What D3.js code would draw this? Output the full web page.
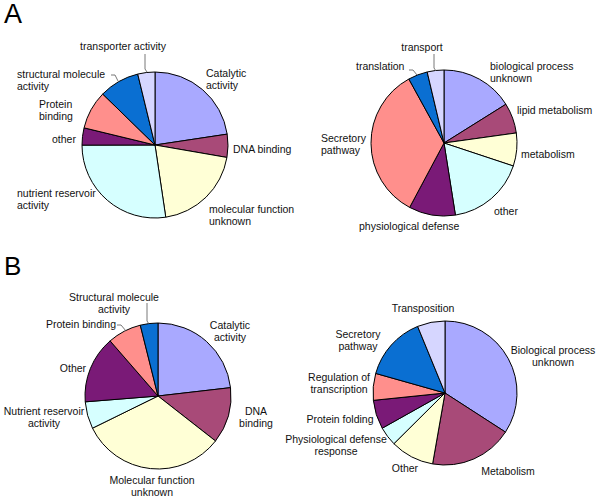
<!DOCTYPE html>
<html>
<head>
<meta charset="utf-8">
<script src="https://cdn.jsdelivr.net/npm/d3@7"></script>
<style>
  body { margin: 0; background: #fff; }
  svg { font-family: "Liberation Sans", Arial, sans-serif; }
</style>
</head>
<body>
<svg class="display"></svg>
<script>
// slice shares (%), clockwise from 12 o'clock
const molFuncA = ['Catalytic activity', 'DNA binding', 'molecular function unknown', 'nutrient reservoir activity',
  'other', 'Protein binding', 'structural molecule activity', 'transporter activity'];
const molFuncAValues = [22.6, 5.1, 19.9, 27.3, 3.8, 8.5, 8.9, 3.8];

const bioProcA = ['biological process unknown', 'lipid metabolism', 'metabolism', 'other',
  'physiological defense', 'Secretory pathway', 'translation', 'transport'];
const bioProcAValues = [16.1, 6.7, 7.3, 17.4, 10.3, 34.2, 4.3, 3.7];

const molFuncB = ['Catalytic activity', 'DNA binding', 'Molecular function unknown', 'Nutrient reservoir activity',
  'Other', 'Protein binding', 'Structural molecule activity'];
const molFuncBValues = [23.2, 12.4, 32.2, 6.0, 14.9, 7.5, 3.9];

const bioProcB = ['Biological process unknown', 'Metabolism', 'Other', 'Physiological defense response',
  'Protein folding', 'Regulation of transcription', 'Secretory pathway', 'Transposition'];
const bioProcBValues = [34.1, 18.6, 9.8, 4.3, 6.5, 6.0, 14.4, 6.2];

const palette = ['#a9a9ff', '#a84a78', '#ffffd6', '#d6ffff', '#7a1a77', '#ff8f8c', '#0a6fd2', '#d6d6ff'];

const width = 600;
const height = 501;

const svg = d3.select('.display')
  .attr('width', width)
  .attr('height', height);

svg.append('text').attr('x', 4).attr('y', 23).attr('font-size', 27).text('A');
svg.append('text').attr('x', 4).attr('y', 275).attr('font-size', 26).text('B');

// label layout: [x, y of first baseline, anchor, lines]
const charts = [
  {
    cats: molFuncA, values: molFuncAValues, cx: 155, cy: 145, r: 73,
    labels: [
      [206, 77, 'start', ['Catalytic', 'activity']],
      [233, 153, 'start', ['DNA binding']],
      [209, 213, 'start', ['molecular function', 'unknown']],
      [17, 197, 'start', ['nutrient reservoir', 'activity']],
      [52, 143, 'start', ['other']],
      [39, 108, 'start', ['Protein', 'binding']],
      [17, 78, 'start', ['structural molecule', 'activity']],
      [123, 50, 'middle', ['transporter activity']]
    ],
    leaders: [
      [[111, 75], [115, 75], [118, 81]],
      [[145, 54], [145, 69], [147, 72]]
    ]
  },
  {
    cats: bioProcA, values: bioProcAValues, cx: 444, cy: 143, r: 73,
    labels: [
      [490, 70, 'start', ['biological process', 'unknown']],
      [517, 114, 'start', ['lipid metabolism']],
      [521, 158, 'start', ['metabolism']],
      [494, 215, 'start', ['other']],
      [359, 230, 'start', ['physiological defense']],
      [321, 142, 'start', ['Secretory', 'pathway']],
      [356, 70, 'start', ['translation']],
      [422, 51, 'middle', ['transport']]
    ],
    leaders: [
      [[409, 70], [413, 70], [417, 75]],
      [[434, 54], [434, 68], [436, 71]]
    ]
  },
  {
    cats: molFuncB, values: molFuncBValues, cx: 158, cy: 396, r: 73,
    labels: [
      [230, 329, 'middle', ['Catalytic', 'activity']],
      [256, 415, 'middle', ['DNA', 'binding']],
      [152, 484, 'middle', ['Molecular function', 'unknown']],
      [44, 415, 'middle', ['Nutrient reservoir', 'activity']],
      [73, 372, 'middle', ['Other']],
      [81, 328, 'middle', ['Protein binding']],
      [114, 301, 'middle', ['Structural molecule', 'activity']]
    ],
    leaders: [
      [[117, 325], [121, 325], [126, 331]],
      [[147, 303], [147, 321], [149, 324]]
    ]
  },
  {
    cats: bioProcB, values: bioProcBValues, cx: 445, cy: 393, r: 72,
    labels: [
      [553, 354, 'middle', ['Biological process', 'unknown']],
      [508, 475, 'middle', ['Metabolism']],
      [405, 472, 'middle', ['Other']],
      [336, 443, 'middle', ['Physiological defense', 'response']],
      [340, 423, 'middle', ['Protein folding']],
      [339, 381, 'middle', ['Regulation of', 'transcription']],
      [358, 338, 'middle', ['Secretory', 'pathway']],
      [423, 312, 'middle', ['Transposition']]
    ],
    leaders: []
  }
];

const pie = d3.pie().sort(null).value(d => d);

charts.forEach(c => {
  const g = svg.append('g').attr('transform', 'translate(' + c.cx + ',' + c.cy + ')');
  const arc = d3.arc().innerRadius(0).outerRadius(c.r);

  g.selectAll('path')
    .data(pie(c.values))
    .enter().append('path')
      .attr('d', arc)
      .attr('fill', (d, i) => palette[i])
      .attr('stroke', '#000')
      .attr('stroke-width', 1)
      .attr('stroke-linejoin', 'round');

  const line = d3.line();
  svg.selectAll(null)
    .data(c.leaders)
    .enter().append('path')
      .attr('d', d => line(d))
      .attr('fill', 'none')
      .attr('stroke', '#555')
      .attr('stroke-width', 0.8);

  const text = svg.selectAll(null)
    .data(c.labels)
    .enter().append('text')
      .attr('x', d => d[0])
      .attr('y', d => d[1])
      .attr('text-anchor', d => d[2])
      .attr('font-size', 10.5)
      .attr('fill', '#111');

  text.selectAll('tspan')
    .data(d => d[3].map(s => ({ s: s, x: d[0] })))
    .enter().append('tspan')
      .attr('x', d => d.x)
      .attr('dy', (d, i) => i === 0 ? 0 : 11.8)
      .text(d => d.s);
});
</script>
</body>
</html>
